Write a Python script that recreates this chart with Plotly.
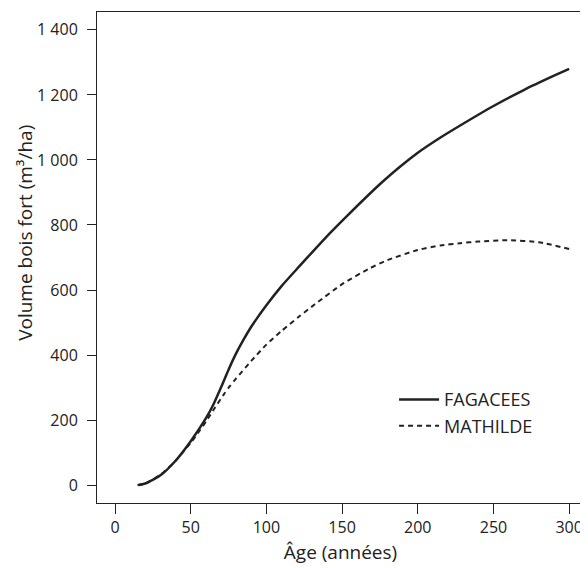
import plotly.graph_objects as go

age_fag = [15, 20, 30, 40, 50, 60, 65, 70, 75, 80, 85, 90, 100, 110, 122, 132, 142, 155, 176, 200, 215, 228, 250, 270, 290, 300]
vol_fag = [0, 5, 30, 75, 135, 205, 248, 300, 355, 405, 448, 487, 553, 612, 674, 725, 775, 836, 930, 1022, 1069, 1106, 1166, 1215, 1259, 1280]

age_mat = [15, 20, 30, 40, 50, 56, 60, 66, 72, 76, 80, 90, 100, 110, 122, 132, 151, 168, 180, 200, 215, 228, 240, 259, 280, 300]
vol_mat = [0, 5, 32, 75, 130, 168, 195, 238, 280, 305, 328, 382, 432, 474, 520, 556, 621, 666, 692, 723, 737, 744, 749, 753, 747, 726]

x_ticks = [0, 50, 100, 150, 200, 250, 300]
y_ticks = [0, 200, 400, 600, 800, 1000, 1200, 1400]
y_tick_text = ["0", "200", "400", "600", "800", "1 000", "1 200", "1 400"]

y_title = "Volume bois fort (m³/ha)"
x_title = "Âge (années)"

ink = "#222222"
font_family = "'Open Sans', Lato, sans-serif"

fig = go.Figure()
fig.add_trace(go.Scatter(x=age_fag, y=vol_fag, mode="lines", name="FAGACEES",
                         line=dict(color=ink, width=2.5, shape="spline", smoothing=0.6)))
fig.add_trace(go.Scatter(x=age_mat, y=vol_mat, mode="lines", name="MATHILDE",
                         line=dict(color=ink, width=2, dash="5px,4px", shape="spline", smoothing=0.6)))

fig.update_layout(
    width=580, height=560,
    margin=dict(l=89, r=4, t=4, b=65),
    paper_bgcolor="white", plot_bgcolor="white",
    font=dict(family=font_family, size=16, color=ink),
    showlegend=True,
    legend=dict(x=0.61, y=0.248, xanchor="left", yanchor="top", itemwidth=40,
                bgcolor="rgba(0,0,0,0)", font=dict(size=18, color=ink),
                tracegroupgap=0),
    xaxis=dict(range=[-11.9, 309.8], tickvals=x_ticks, ticks="outside", ticklen=10,
               tickcolor=ink, showline=True, linecolor=ink, linewidth=1, mirror=True,
               showgrid=False, zeroline=False,
               title=dict(text=x_title, standoff=8, font=dict(size=19))),
    yaxis=dict(range=[-55, 1455], tickvals=y_ticks, ticktext=y_tick_text, ticks="outside",
               ticklen=9, tickcolor=ink, showline=True, linecolor=ink, linewidth=1, mirror=True,
               showgrid=False, zeroline=False, ticklabelstandoff=6),
    annotations=[dict(text=y_title, textangle=-90, xref="paper", yref="paper",
                      x=-0.148, y=0.55, xanchor="center", yanchor="middle",
                      showarrow=False, font=dict(size=19, color=ink))],
)

fig.write_html("out.html")
